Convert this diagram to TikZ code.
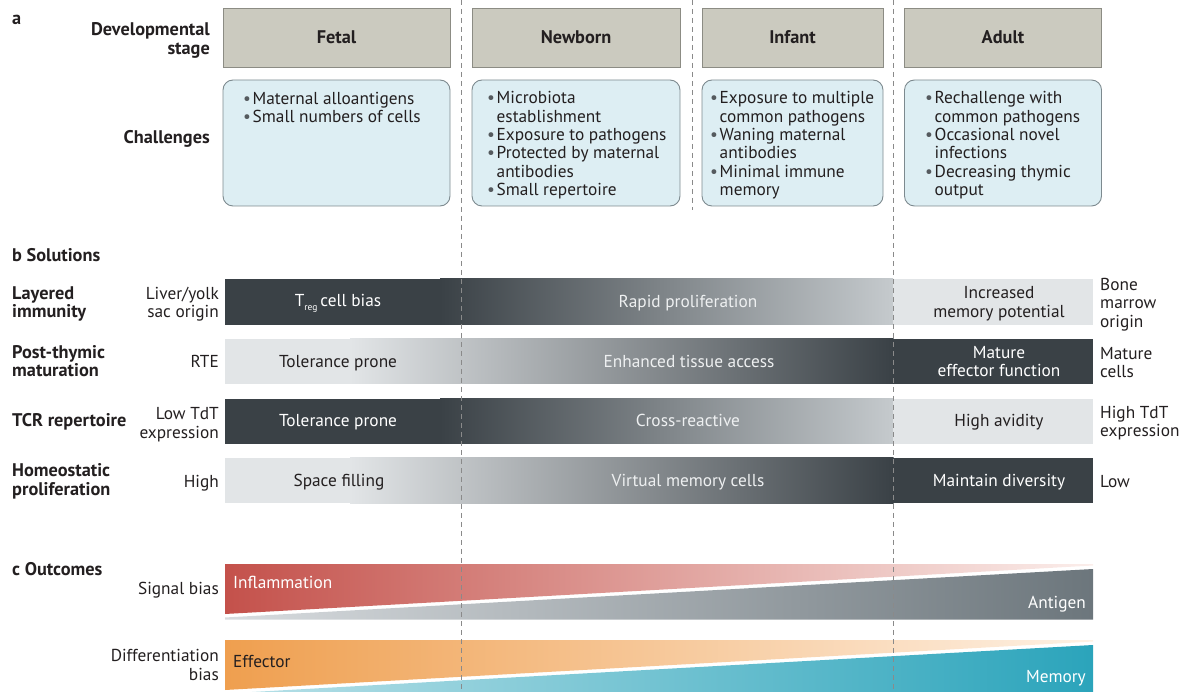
\documentclass[tikz,border=0pt]{standalone}
\usepackage{fontspec}
\setmainfont{PT Sans}
\newcommand\fsz{\fontsize{17.3pt}{18.3pt}\selectfont}
\newcommand\fszb{\fontsize{18.3pt}{18.3pt}\selectfont\bfseries}
\newcommand\rlines[1]{\begin{tabular}[t]{@{}r@{}}#1\end{tabular}}
\newcommand\llines[1]{\begin{tabular}[t]{@{}l@{}}#1\end{tabular}}
\newcommand\clines[1]{\begin{tabular}[t]{@{}c@{}}#1\end{tabular}}
\definecolor{txt}{HTML}{231F20}
\definecolor{bulc}{HTML}{555A5E}
\definecolor{stagefill}{HTML}{CBCABF}
\definecolor{stageedge}{HTML}{8C8C84}
\definecolor{chfill}{HTML}{DDEEF3}
\definecolor{chedge}{HTML}{7D8A8F}
\definecolor{dashc}{HTML}{8A8A8A}
\definecolor{bardk}{HTML}{3A4146}
\definecolor{barmid}{HTML}{C5CACD}
\definecolor{barlt}{HTML}{E2E5E7}
\definecolor{midtxt}{HTML}{EEF0F1}
\definecolor{redL}{HTML}{C4514B}
\definecolor{redR}{HTML}{FBEEEB}
\definecolor{grayL}{HTML}{D8DCDF}
\definecolor{grayR}{HTML}{6C767C}
\definecolor{orL}{HTML}{EF9F4F}
\definecolor{orR}{HTML}{FEF1E4}
\definecolor{tealL}{HTML}{B9E1E8}
\definecolor{tealR}{HTML}{2BA4BB}
% one bullet item with hanging indent
\newcommand\itm[1]{\par\noindent\hangindent=9.5pt\hangafter=1\makebox[9.5pt][l]{\textcolor{bulc}{\textbullet}}#1}
\newcommand\chlist[1]{\parbox[t]{240pt}{\fsz #1}}
% bar fading from dark (left) to light (right)
\newcommand\darkbar[2]{%
  \fill[bardk] (225,#1) rectangle (440.5,#2);
  \shade[left color=bardk, right color=barmid] (440,#1) rectangle (893,#2);
  \fill[barlt] (893,#1) rectangle (1093,#2);}
% bar growing from light (left) to dark (right)
\newcommand\lightbar[2]{%
  \fill[barlt] (225,#1) rectangle (350.5,#2);
  \shade[left color=barlt, right color=bardk] (350,#1) rectangle (893.5,#2);
  \fill[bardk] (893,#1) rectangle (1093,#2);}
\begin{document}
\begin{tikzpicture}[x=1pt,y=-1pt,
  lab/.style={font=\fsz, text=txt, inner sep=0pt},
  hd/.style={lab, font=\fszb},
  stagebox/.style={hd, draw=stageedge, fill=stagefill, line width=0.9pt, minimum height=59pt},
  chbox/.style={draw=chedge, fill=chfill, line width=0.9pt, rounded corners=10pt, inner sep=0pt, minimum height=126pt},
  onDark/.style={lab, text=white},
  onMid/.style={lab, text=midtxt},
  divider/.style={draw=dashc, line width=0.8pt, dash pattern=on 5pt off 4pt},
]
\useasboundingbox (0,0) rectangle (1192,692);

% ---- a: developmental stages and challenges
\node[hd, anchor=base west] (pa) at (12,25) {a};
\node[hd, anchor=base east] (stagelbl) at (210,36) {\rlines{Developmental\\stage}};
\node[stagebox, minimum width=227pt] (fetal) at (336.5,37.5) {Fetal};
\node[stagebox, minimum width=208pt] (newborn) at (576,37.5) {Newborn};
\node[stagebox, minimum width=181pt] (infant) at (792.5,37.5) {Infant};
\node[stagebox, minimum width=197pt] (adult) at (1003,37.5) {Adult};

\node[hd, anchor=base east] (challbl) at (210,144) {Challenges};
\node[chbox, minimum width=227pt] (chfetal) at (336.5,143) {};
\node[chbox, minimum width=208pt] (chnewborn) at (576,143) {};
\node[chbox, minimum width=181pt] (chinfant) at (792.5,143) {};
\node[chbox, minimum width=197pt] (chadult) at (1003,143) {};

\node[lab, anchor=base west] (tfetal) at (243,104.5)
  {\chlist{\itm{Maternal alloantigens}\itm{Small numbers of cells}}};
\node[lab, anchor=base west] (tnewborn) at (487,104)
  {\chlist{\itm{Microbiota\newline establishment}\itm{Exposure to pathogens}\itm{Protected by maternal\newline antibodies}\itm{Small repertoire}}};
\node[lab, anchor=base west] (tinfant) at (710,104)
  {\chlist{\itm{Exposure to multiple\newline common pathogens}\itm{Waning maternal\newline antibodies}\itm{Minimal immune\newline memory}}};
\node[lab, anchor=base west] (tadult) at (925,104)
  {\chlist{\itm{Rechallenge with\newline common pathogens}\itm{Occasional novel\newline infections}\itm{Decreasing thymic\newline output}}};

% ---- b: solutions
\node[hd, anchor=base west] (pb) at (12,262) {b Solutions};

\darkbar{279}{325}
\lightbar{339}{384}
\darkbar{399}{444}
\lightbar{458}{503}

\node[hd, anchor=base west] (r1name) at (12,299.3) {\llines{Layered\\immunity}};
\node[hd, anchor=base west] (r2name) at (12,358.3) {\llines{Post-thymic\\maturation}};
\node[hd, anchor=base west] (r3name) at (12,427) {TCR repertoire};
\node[hd, anchor=base west] (r4name) at (12,476.7) {\llines{Homeostatic\\proliferation}};

\node[lab, anchor=base east] (r1start) at (219,299.3) {\rlines{Liver/yolk\\sac origin}};
\node[lab, anchor=base east] (r2start) at (219,368) {RTE};
\node[lab, anchor=base east] (r3start) at (219,420) {\rlines{Low TdT\\expression}};
\node[lab, anchor=base east] (r4start) at (219,487) {High};

\node[lab, anchor=base west] (r1end) at (1100,290.7) {\llines{Bone\\marrow\\origin}};
\node[lab, anchor=base west] (r2end) at (1100,359.3) {\llines{Mature\\cells}};
\node[lab, anchor=base west] (r3end) at (1100,418.3) {\llines{High TdT\\expression}};
\node[lab, anchor=base west] (r4end) at (1100,487) {Low};

\node[onDark, anchor=base] (r1a) at (338,307) {T\raisebox{-3.5pt}{\fontsize{9.5pt}{9.5pt}\selectfont reg}\,cell bias};
\node[onMid, anchor=base] (r1b) at (688,308) {Rapid proliferation};
\node[lab, anchor=base] (r1c) at (999,299) {\clines{Increased\\memory potential}};

\node[lab, anchor=base] (r2a) at (338,368) {Tolerance prone};
\node[onMid, anchor=base] (r2b) at (689,368) {Enhanced tissue access};
\node[onDark, anchor=base] (r2c) at (999,358.3) {\clines{Mature\\effector function}};

\node[onDark, anchor=base] (r3a) at (338,427) {Tolerance prone};
\node[onMid, anchor=base] (r3b) at (688,427) {Cross-reactive};
\node[lab, anchor=base] (r3c) at (999,427) {High avidity};

\node[lab, anchor=base] (r4a) at (339,486.5) {Space filling};
\node[onMid, anchor=base] (r4b) at (688,486.5) {Virtual memory cells};
\node[onDark, anchor=base] (r4c) at (999,486.5) {Maintain diversity};

% ---- c: outcomes
\node[hd, anchor=base west] (pc) at (12,575) {c Outcomes};
\node[lab, anchor=base east] (sigl) at (219,594) {Signal bias};
\node[lab, anchor=base east] (difl) at (219,661.7) {\rlines{Differentiation\\bias}};

\shade[left color=redL, right color=redR] (225,564) -- (1093,564) -- (1093,565.5) -- (225,614) -- cycle;
\shade[left color=grayL, right color=grayR] (225,617.5) -- (1093,569) -- (1093,619.5) -- (225,619.5) -- cycle;
\shade[left color=orL, right color=orR] (225,640) -- (1093,640) -- (1093,641.5) -- (225,690) -- cycle;
\shade[left color=tealL, right color=tealR] (225,693.5) -- (1093,645) -- (1093,697) -- (225,697) -- cycle;

\node[onDark, anchor=base west] (infl) at (233,588) {Inflammation};
\node[onDark, anchor=base east] (antig) at (1086,608) {Antigen};
\node[lab, anchor=base west] (effe) at (233,667) {Effector};
\node[onDark, anchor=base east] (memo) at (1086,682) {Memory};

% ---- stage dividers
\draw[divider] (461,0) -- (461,692);
\draw[divider] (692,0) -- (692,210);
\draw[divider] (893,0) -- (893,692);
\end{tikzpicture}
\end{document}
